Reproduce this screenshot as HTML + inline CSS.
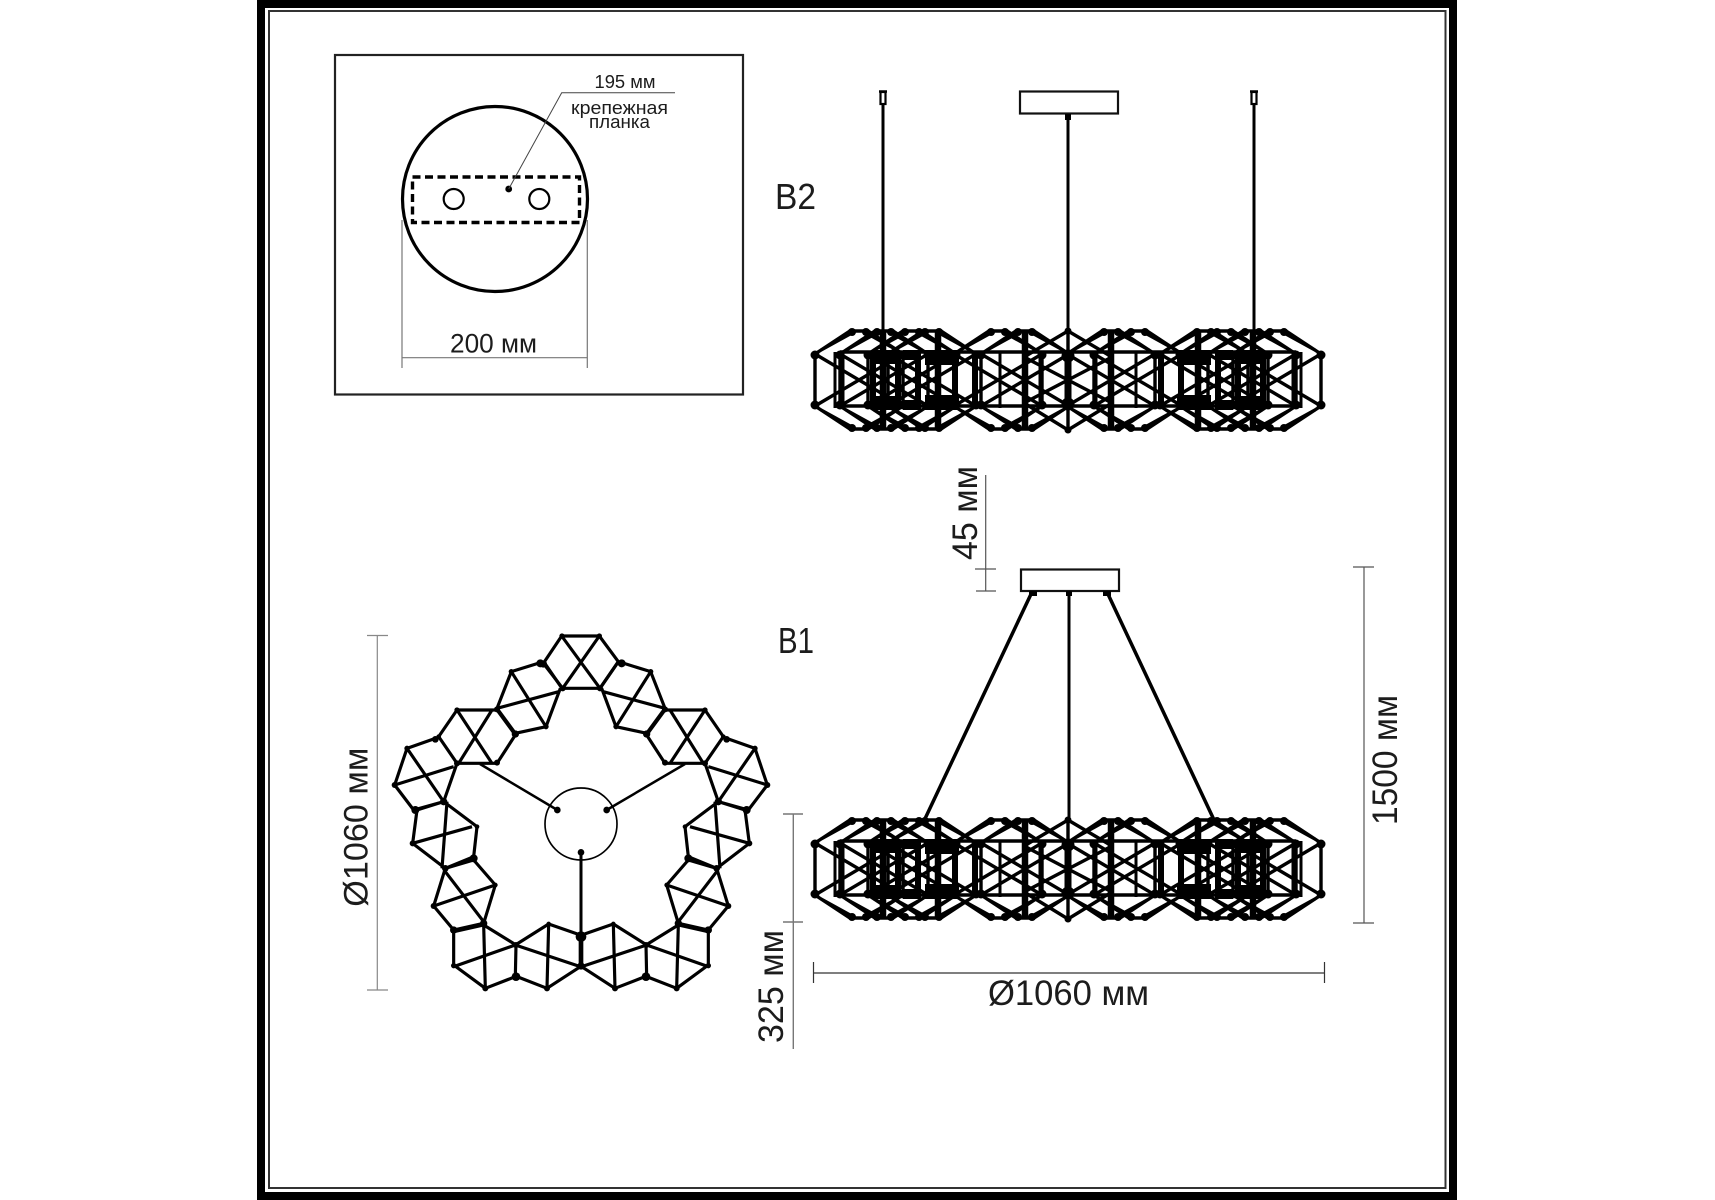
<!DOCTYPE html>
<html><head><meta charset="utf-8"><style>
html,body{margin:0;padding:0;background:#fff;width:1715px;height:1200px;overflow:hidden}
svg{display:block}
text{font-family:"Liberation Sans",sans-serif;fill:#1c1c1c}
</style></head><body>
<svg width="1715" height="1200" viewBox="0 0 1715 1200" xmlns="http://www.w3.org/2000/svg">
<defs>
<g id="mod">
<path d="M-44 -26L-9 -49H9L44 -26V26L9 49H-9L-44 26Z M-44 -26L44 26 M-44 26L44 -26 M-38 -30L-9 -46 M38 -30L9 -46 M-38 30L-9 46 M38 30L9 46" fill="none" stroke="#000" stroke-width="3.400"/>
<circle cx="-44" cy="-25" r="4.500"/><circle cx="44" cy="-25" r="4.500"/><circle cx="-44" cy="25" r="4.500"/><circle cx="44" cy="25" r="4.500"/>
<circle cx="-7" cy="-48" r="4"/><circle cx="7" cy="-48" r="4"/><circle cx="-7" cy="48" r="4"/><circle cx="7" cy="48" r="4"/>
</g>
<g id="halfring">
<use href="#mod" x="859" y="380"/>
<use href="#mod" x="884" y="380"/>
<use href="#mod" x="912" y="380"/>
<use href="#mod" x="932" y="380"/>
<use href="#mod" x="998" y="380"/>
<use href="#mod" x="1025" y="380"/>
<path d="M815 357V403M835 352V408M843 352V408" stroke="#000" stroke-width="3" fill="none"/>
<path d="M883 331V430M938 331V430M1025 331V430" stroke="#000" stroke-width="6.500" fill="none"/>
<path d="M873 356V405M898 352V408M918 356V405M955 352V408M975 355V405" stroke="#000" stroke-width="6" fill="none"/>
<path d="M872 350h26v14h-26zM872 396h26v14h-26zM925 350h34v15h-34zM925 395h34v15h-34zM903 350h18v10h-18zM903 400h18v10h-18z" fill="#000"/>
<path d="M1000 352V408M1040 352V408" stroke="#000" stroke-width="3" fill="none"/>
</g>
<g id="ring">
<use href="#halfring"/>
<use href="#halfring" transform="translate(2136 0) scale(-1 1)"/>
<path d="M1068 331L1024 357V403L1068 430L1112 403V357Z M1024 357L1112 403 M1024 403L1112 357 M1068 331V430" fill="none" stroke="#000" stroke-width="3.400"/>
<path d="M1068 352V408" stroke="#000" stroke-width="7"/>
<path d="M840 352H1296M840 406H1296" stroke="#000" stroke-width="3.500"/>
<circle cx="1068" cy="356" r="6.500"/><circle cx="1068" cy="404" r="6.500"/><circle cx="1068" cy="331" r="3.500"/><circle cx="1068" cy="430" r="3.500"/>
</g>
<g id="topmod">
<path d="M725 128L812 155L855 265L800 340L708 320L665 205M715 125L660 205M812 155L708 320M670 215L855 265
M855 270H975L1030 350L975 430H855L800 345ZM870 270L970 430M975 270L870 430
M1040 355L1125 385L1162 495L1105 570L1015 545L975 430M1125 385L1015 545M985 440L1162 495
M1015 545L1095 570L1108 670L1010 745L925 710L915 620ZM930 620L1108 670M1005 545L1020 745
M925 720L1010 745L1045 858L985 930L895 910L860 795ZM1010 755L895 905M860 795L1045 858
M895 915L985 935L985 1035L890 1105L800 1070L798 975ZM800 975L985 1040M895 915L890 1105
M800 975L700 912L605 945V1040L705 1105L795 1070M700 912L705 1105M605 1040L800 975" fill="none" stroke="#000" stroke-width="9.500" stroke-linejoin="round"/>
<g>
<circle cx="725" cy="130" r="12"/><circle cx="812" cy="155" r="8"/><circle cx="855" cy="268" r="9"/><circle cx="800" cy="342" r="11"/><circle cx="708" cy="320" r="8"/>
<circle cx="975" cy="270" r="8"/><circle cx="1030" cy="350" r="7"/><circle cx="1040" cy="358" r="10"/><circle cx="975" cy="430" r="9"/><circle cx="855" cy="428" r="9"/>
<circle cx="1125" cy="385" r="8"/><circle cx="1162" cy="495" r="9"/><circle cx="1100" cy="570" r="12"/><circle cx="1015" cy="545" r="11"/>
<circle cx="1108" cy="670" r="9"/><circle cx="1010" cy="745" r="10"/><circle cx="925" cy="715" r="12"/><circle cx="915" cy="620" r="7"/>
<circle cx="1045" cy="858" r="9"/><circle cx="985" cy="930" r="11"/><circle cx="895" cy="910" r="11"/><circle cx="860" cy="795" r="7"/>
<circle cx="985" cy="1037" r="8"/><circle cx="890" cy="1105" r="9"/><circle cx="798" cy="1070" r="13"/><circle cx="798" cy="975" r="9"/>
<circle cx="700" cy="912" r="7"/><circle cx="705" cy="1105" r="9"/>
</g>
</g>
</defs>

<!-- frame -->
<rect x="261" y="4" width="1192" height="1192" fill="none" stroke="#000" stroke-width="8"/>
<rect x="269" y="11" width="1176.500" height="1177" fill="none" stroke="#333" stroke-width="2"/>

<!-- panel -->
<rect x="335" y="55" width="408" height="339.500" fill="none" stroke="#222" stroke-width="2.200"/>
<circle cx="495" cy="199" r="92.500" fill="none" stroke="#000" stroke-width="3.200"/>
<rect x="412.500" y="177" width="167" height="45.500" fill="none" stroke="#000" stroke-width="3.400" stroke-dasharray="8 4.500"/>
<circle cx="453.700" cy="199" r="10" fill="none" stroke="#000" stroke-width="2.200"/>
<circle cx="539.300" cy="199" r="10" fill="none" stroke="#000" stroke-width="2.200"/>
<circle cx="508.700" cy="189" r="3.400"/>
<path d="M508.700 189L561.700 92.700H675" fill="none" stroke="#444" stroke-width="1"/>
<path d="M402 220V368M587.300 220V368M402 357.700H587.300" fill="none" stroke="#777" stroke-width="1.200"/>
<text x="594.500" y="88" font-size="18" textLength="61" lengthAdjust="spacingAndGlyphs">195 мм</text>
<text x="571" y="114" font-size="18" textLength="97" lengthAdjust="spacingAndGlyphs">крепежная</text>
<text x="589" y="128" font-size="18" textLength="61" lengthAdjust="spacingAndGlyphs">планка</text>
<text x="450" y="352.500" font-size="27" textLength="87" lengthAdjust="spacingAndGlyphs">200 мм</text>

<!-- B2 -->
<text x="775" y="209" font-size="36" textLength="41" lengthAdjust="spacingAndGlyphs">B2</text>
<rect x="1020" y="91.500" width="98" height="22" fill="#fff" stroke="#111" stroke-width="2.200"/>
<path d="M1068 114V330M883 105V330M1254 105V330" stroke="#000" stroke-width="3" fill="none"/>
<path d="M1065 114h6v6h-6z"/>
<path d="M879 91.500h8M1250 91.500h8" stroke="#000" stroke-width="2.500"/>
<rect x="880.500" y="92" width="5" height="12" fill="#fff" stroke="#000" stroke-width="2.200"/>
<rect x="1251.500" y="92" width="5" height="12" fill="#fff" stroke="#000" stroke-width="2.200"/>
<use href="#ring"/>

<!-- B1 side view -->
<use href="#ring" y="489"/>
<rect x="1021" y="569.500" width="98" height="21.500" fill="#fff" stroke="#111" stroke-width="2.200"/>
<path d="M1069 591V820" stroke="#000" stroke-width="3"/>
<path d="M1032 592L923 823M1107 592L1215 822" stroke="#000" stroke-width="3.500"/>
<path d="M1029 591h8v5h-8zM1103 591h8v5h-8zM1066 591h6v5h-6z"/>

<text x="778" y="653" font-size="36" textLength="36" lengthAdjust="spacingAndGlyphs">B1</text>

<!-- dims -->
<path d="M985.700 475V591M975 569H996M976 591H996" stroke="#555" stroke-width="1.200" fill="none"/>
<text transform="translate(977 560) rotate(-90)" font-size="35" textLength="94" lengthAdjust="spacingAndGlyphs">45 мм</text>
<path d="M1364 567V923M1353 567H1374M1353 923H1374" stroke="#555" stroke-width="1.200" fill="none"/>
<text transform="translate(1397 825) rotate(-90)" font-size="35" textLength="130" lengthAdjust="spacingAndGlyphs">1500 мм</text>
<path d="M793.300 814V1049M783 814H803M783 922H803" stroke="#777" stroke-width="1.400" fill="none"/>
<text transform="translate(783 1043) rotate(-90)" font-size="35" textLength="113" lengthAdjust="spacingAndGlyphs">325 мм</text>
<path d="M813.500 973H1325M813.500 962V983M1324.500 962V983" stroke="#333" stroke-width="1.200" fill="none"/>
<text x="988" y="1005" font-size="35" textLength="161" lengthAdjust="spacingAndGlyphs">Ø1060 мм</text>
<path d="M377.300 635V990M367 635.500H388M367 990H388" stroke="#888" stroke-width="1.200" fill="none"/>
<text transform="translate(367.700 906.700) rotate(-90)" font-size="34" textLength="159" lengthAdjust="spacingAndGlyphs">Ø1060 мм</text>

<!-- top view -->
<g transform="translate(380 620) scale(.33333)">
<path d="M545 48H658L715 125L660 205H548L490 130ZM545 48L660 205M658 48L548 205" fill="none" stroke="#000" stroke-width="9.500" stroke-linejoin="round"/>
<circle cx="546" cy="48" r="8"/><circle cx="658" cy="48" r="8"/><circle cx="548" cy="205" r="9"/><circle cx="660" cy="205" r="9"/><circle cx="490" cy="132" r="11"/>
<use href="#topmod"/>
<use href="#topmod" transform="translate(1206 0) scale(-1 1)"/>
<circle cx="603" cy="612" r="108" fill="none" stroke="#000" stroke-width="5"/>
<path d="M532 570L300 432M680 570L915 432" stroke="#000" stroke-width="7.500"/>
<path d="M603 697V1035" stroke="#000" stroke-width="9"/>
<path d="M603 945V1040" stroke="#000" stroke-width="13"/>
<circle cx="532" cy="570" r="10"/><circle cx="680" cy="570" r="10"/><circle cx="603" cy="697" r="10"/><circle cx="603" cy="950" r="16"/><circle cx="603" cy="1038" r="11"/>
</g>
</svg>
</body></html>
